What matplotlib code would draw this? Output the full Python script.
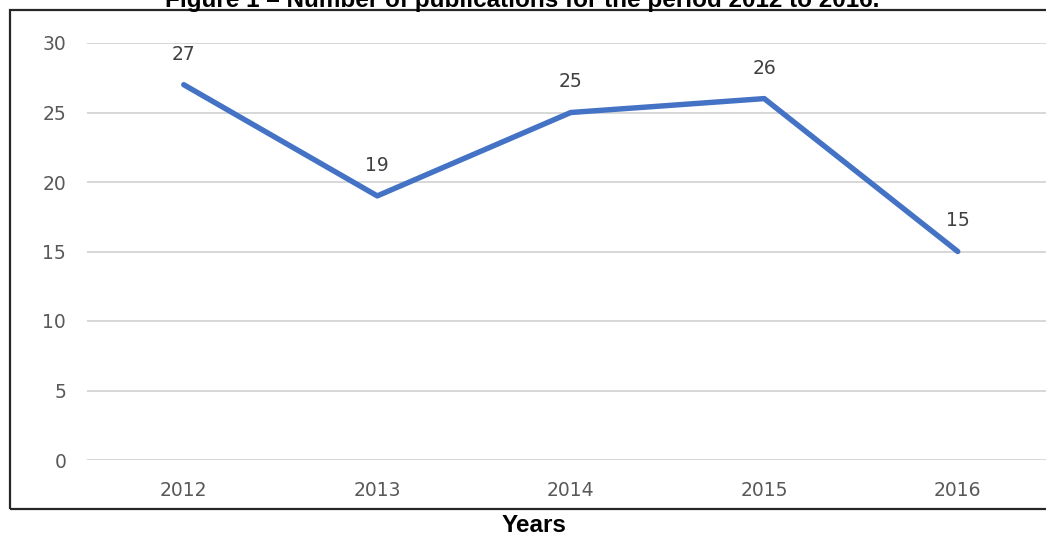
import matplotlib
matplotlib.use("Agg")
import matplotlib.pyplot as plt
from matplotlib.patches import Rectangle

years = ["2012", "2013", "2014", "2015", "2016"]
publications = [27, 19, 25, 26, 15]
y_ticks = [0, 5, 10, 15, 20, 25, 30]
title_text = "Figure 1 \u2013 Number of publications for the period 2012 to 2016."
x_label = "Years"

W, H = 1046, 535
fig = plt.figure(figsize=(W / 100, H / 100), dpi=100)
fig.patch.set_facecolor("white")

left_px, top_px, bottom_px = 87, 43, 460
width_px = 967.5
ax = fig.add_axes([left_px / W, 1 - bottom_px / H, width_px / W, (bottom_px - top_px) / H])

x = list(range(len(years)))
ax.plot(x, publications, color="#4472C4", linewidth=3.9, solid_capstyle="round",
        solid_joinstyle="round", zorder=3)

for xi, v in zip(x, publications):
    ax.annotate(str(v), (xi, v), xytext=(0, 22), textcoords="offset points",
                ha="center", va="center", fontsize=13.5, color="#404040",
                family="DejaVu Sans")

ax.set_xlim(-0.5, len(years) - 0.5)
ax.set_ylim(0, 30)
ax.set_yticks(y_ticks)
ax.set_xticks(x)
ax.set_xticklabels(years)
ax.grid(axis="y", color="#D4D4D4", linewidth=1.3)
ax.set_axisbelow(True)
for s in ax.spines.values():
    s.set_visible(False)
ax.tick_params(axis="both", length=0, labelsize=13.5, labelcolor="#595959")
ax.tick_params(axis="y", pad=15)
ax.tick_params(axis="x", pad=15)

# outer frame
fl, ft, fb = 9.5, 10, 509
fig.patches.append(Rectangle((fl / W, 1 - fb / H), 1.05, (fb - ft) / H,
                             transform=fig.transFigure, fill=False,
                             edgecolor="#262626", linewidth=1.6, clip_on=False))

fig.text(522 / W, 1 - 6.5 / H, title_text, ha="center", va="baseline",
         fontsize=17.5, fontweight="bold", family="Liberation Sans")
fig.text(534 / W, 1 - 532 / H, x_label, ha="center", va="baseline",
         fontsize=17.5, fontweight="bold", family="Liberation Sans")

fig.savefig("out.png", dpi=100, facecolor="white")
